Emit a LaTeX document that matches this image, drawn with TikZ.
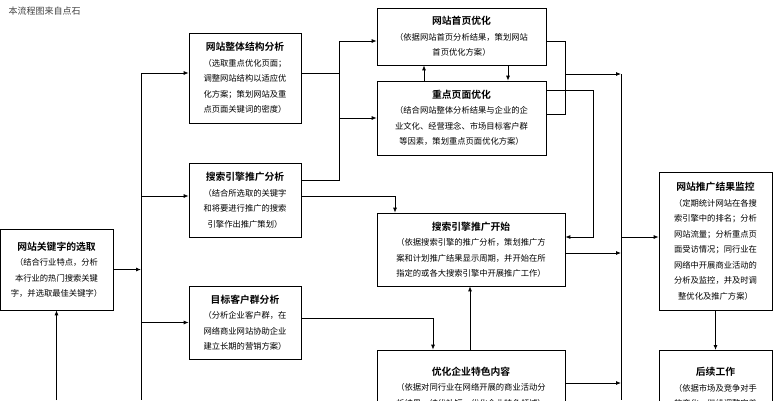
\documentclass[tikz,border=0pt]{standalone}
\usepackage{fontspec}
\setmainfont{Noto Sans CJK SC}[BoldFont={Noto Sans CJK SC Bold}]
\usetikzlibrary{arrows.meta}
\tikzset{
  box/.style={draw, line width=0.7pt, align=center, inner sep=1pt,
    font=\fontsize{8.3}{15.5}\selectfont},
  ttl/.style={font=\bfseries\fontsize{9.5}{15.5}\selectfont},
  link/.style={line width=0.8pt},
  arr/.style={link, -{Latex[length=5pt,width=4pt]}}
}
\newcommand{\hd}[1]{{\bfseries\fontsize{9.8}{15.5}\selectfont #1}\\}
\begin{document}
\begin{tikzpicture}[x=1pt, y=-1pt]
  \useasboundingbox (0,0) rectangle (773,400);
  \begin{scope}
  \clip (0,0) rectangle (773,400);
  \node[anchor=west, font=\fontsize{9}{10}\selectfont, text=black!75] (note) at (5,11) {本流程图来自点石};
  % BOXES
  \node[box, minimum width=113pt, minimum height=81pt] (kw) at (56.5,269.5)
    {\hd{网站关键字的选取}（结合行业特点，分析\\本行业的热门搜索关键\\字，并选取最佳关键字）};
  \node[box, minimum width=112pt, minimum height=90pt] (struct) at (245,78)
    {\hd{网站整体结构分析}（选取重点优化页面；\\调整网站结构以适应优\\化方案；策划网站及重\\点页面关键词的密度）};
  \node[box, minimum width=112pt, minimum height=74pt] (seo) at (245,200)
    {\hd{搜索引擎推广分析}（结合所选取的关键字\\和将要进行推广的搜索\\引擎作出推广策划）};
  \node[box, minimum width=112pt, minimum height=73pt] (cust) at (245,322.5)
    {\hd{目标客户群分析}（分析企业客户群，在\\网络商业网站协助企业\\建立长期的营销方案）};
  \node[box, minimum width=169pt, minimum height=57pt] (home) at (461.5,36.5)
    {\hd{网站首页优化}（依据网站首页分析结果，策划网站\\首页优化方案）};
  \node[box, minimum width=169pt, minimum height=74pt] (page) at (461.5,118)
    {\hd{重点页面优化}（结合网站整体分析结果与企业的企\\业文化、经营理念、市场目标客户群\\等因素，策划重点页面优化方案）};
  \node[box, minimum width=188pt, minimum height=73pt] (start) at (471,249.5)
    {\hd{搜索引擎推广开始}（依据搜索引擎的推广分析，策划推广方\\案和计划推广结果显示周期，并开始在所\\指定的或各大搜索引擎中开展推广工作）};
  \node[box, minimum width=188pt, minimum height=74pt] (feat) at (471,387)
    {\hd{优化企业特色内容}（依据对同行业在网络开展的商业活动分\\析结果，结优补短，优化企业特色领域）};
  \node[box, minimum width=113pt, minimum height=138pt] (mon) at (715.5,241)
    {\hd{网站推广结果监控}（定期统计网站在各搜\\索引擎中的排名；分析\\网站流量；分析重点页\\面受访情况；同行业在\\网络中开展商业活动的\\分析及监控，并及时调\\整优化及推广方案）};
  \node[box, minimum width=113pt, minimum height=74pt, anchor=north] (next) at (715.5,350)
    {\hd{后续工作}（依据市场及竞争对手\\的变化，继续调整完善};
  % JUNCTIONS
  \coordinate (busL) at (141,73);
  \coordinate (busM) at (339,41);
  \coordinate (busR) at (621,74);
  \coordinate (bot) at (0,400);
  % WIRES
  \draw[arr] (kw.south |- bot) -- (kw.south);
  \draw[arr] (kw.east) -- (kw.east -| busL);
  \draw[link] (busL) -- (busL |- bot);
  \draw[arr] (busL) -- (busL -| struct.west);
  \draw[arr] (busL |- 0,196) -- (struct.west |- 0,196);
  \draw[arr] (busL |- cust) -- (cust.west);
  \draw[link] (struct.east |- busL) -- (busL -| busM);
  \draw[link] (busM) -- (busM |- 0,180) -- (seo.east |- 0,180);
  \draw[arr] (busM) -- (busM -| home.west);
  \draw[arr] (busM |- page.west) -- (page.west);
  \draw[arr] (page.north -| 424,0) -- (home.south -| 424,0);
  \draw[arr] (home.south -| 508,0) -- (page.north -| 508,0);
  \draw[link] (home.east |- busM) -- (565,41) -- (565,114) -- (page.east |- 0,114);
  \draw[arr] (565,74) -- (busR);
  \draw[link] (busR) -- (busR |- bot);
  \draw[arr] (page.east |- 0,90) -- (593,90) -- (593,237) -- (start.east |- 0,237);
  \draw[arr] (seo.east |- 0,196) -- (395,196) -- (start.north -| 395,0);
  \draw[arr] (start.east |- 0,253) -- (busR |- 0,253);
  \draw[arr] (cust.east |- 0,318) -- (433,318) -- (feat.north -| 433,0);
  \draw[arr] (feat.north -| 470,0) -- (start.south -| 470,0);
  \draw[arr] (feat.east |- 0,383) -- (busR |- 0,383);
  \draw[arr] (busR |- 0,237) -- (mon.west |- 0,237);
  \draw[arr] (mon.south) -- (next.north);
  \end{scope}
\end{tikzpicture}
\end{document}
